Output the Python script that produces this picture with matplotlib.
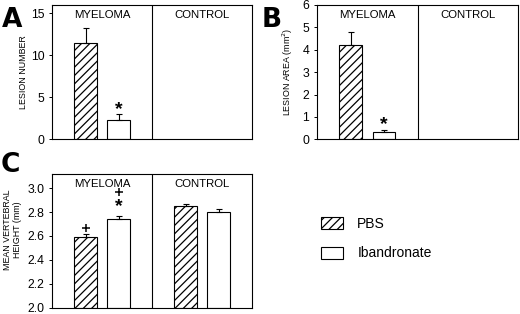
import matplotlib
matplotlib.use('Agg')
import matplotlib.pyplot as plt
from matplotlib.patches import Patch

plt.rcParams['font.family'] = ['Liberation Sans', 'DejaVu Sans']
plt.rcParams['hatch.linewidth'] = 0.9

# dados
grupos = ['MYELOMA', 'CONTROL']
tratamentos = ['PBS', 'Ibandronate']

# A - numero de lesoes (so myeloma)
lesao_num = [11.5, 2.3]
lesao_num_err = [1.8, 0.7]

# B - area das lesoes (mm2)
lesao_area = [4.2, 0.33]
lesao_area_err = [0.6, 0.08]

# C - altura vertebral media (mm): myeloma PBS, myeloma Iban, control PBS, control Iban
altura = [2.59, 2.74, 2.85, 2.80]
altura_err = [0.03, 0.025, 0.02, 0.025]

W, H = 520, 314
fig = plt.figure(figsize=(W / 100, H / 100), dpi=100)

def eixo(l, t, r, b):
    return fig.add_axes([l / W, 1 - b / H, (r - l) / W, (b - t) / H])

ax_a = eixo(52, 5, 252, 139.3)
ax_b = eixo(317, 5, 518, 139.3)
ax_c = eixo(52, 174, 252, 307.5)

pos = [0.67, 1.33, 2.67, 3.33]
larg = 0.45
estilos = [dict(facecolor='white', hatch='////'), dict(facecolor='white')]

def barras(ax, vals, errs):
    for i, (v, e) in enumerate(zip(vals, errs)):
        ax.bar(pos[i], v - ax.get_ylim()[0], bottom=ax.get_ylim()[0], width=larg,
               edgecolor='black', linewidth=0.8, **estilos[i % 2], zorder=2)
        ax.errorbar(pos[i], v, yerr=[[0], [e]], fmt='none', ecolor='black',
                    elinewidth=0.8, capsize=2.2, capthick=0.8, zorder=3)

def formatar(ax, ylim, ticks, fmt):
    ax.set_xlim(0, 4)
    ax.set_ylim(*ylim)
    ax.set_yticks(ticks)
    ax.set_yticklabels([fmt.format(t) for t in ticks])
    ax.set_xticks([])
    ax.tick_params(axis='y', length=2.5, width=0.7, pad=3, labelsize=8.8)
    for s in ax.spines.values():
        s.set_linewidth(0.8)
    ax.axvline(2, color='black', linewidth=0.8)
    for j, g in enumerate(grupos):
        ax.text(1 + 2 * j, 0.925, g, transform=ax.get_xaxis_transform(),
                ha='center', va='center', fontsize=8.2)

# simbolos: * como texto (linha de base deslocada), + como marcador
def simbolo(ax, x, y, s):
    if s == '*':
        tam = 14
        ax.annotate(s, (x, y), xytext=(0, -0.38 * tam), textcoords='offset points',
                    ha='center', va='baseline', fontsize=tam, fontweight='bold')
    else:
        ax.plot(x, y, marker='+', markersize=6, markeredgewidth=1.1, color='black')

formatar(ax_a, (0, 16), [0, 5, 10, 15], '{:g}')
barras(ax_a, lesao_num, lesao_num_err)
ax_a.set_ylabel('LESION NUMBER', fontsize=6.4)
ax_a.yaxis.set_label_coords(-0.12, 0.5)
simbolo(ax_a, pos[1], 3.87, '*')

formatar(ax_b, (0, 6), [0, 1, 2, 3, 4, 5, 6], '{:g}')
barras(ax_b, lesao_area, lesao_area_err)
ax_b.set_ylabel('LESION AREA (mm$^2$)', fontsize=6.4)
ax_b.yaxis.set_label_coords(-0.11, 0.5)
simbolo(ax_b, pos[1], 0.79, '*')

formatar(ax_c, (2.0, 3.12), [2.0, 2.2, 2.4, 2.6, 2.8, 3.0], '{:.1f}')
barras(ax_c, altura, altura_err)
ax_c.set_ylabel('MEAN VERTEBRAL\nHEIGHT (mm)', fontsize=6.4, linespacing=1.2)
ax_c.yaxis.set_label_coords(-0.15, 0.58)
simbolo(ax_c, pos[0], 2.669, '+')
simbolo(ax_c, pos[1], 2.869, '*')
simbolo(ax_c, pos[1], 2.969, '+')

# letras dos paineis
for letra, x, y in [('A', 2, 27), ('B', 262, 27), ('C', 1, 172)]:
    fig.text(x / W, 1 - y / H, letra, fontsize=19, fontweight='bold', family='DejaVu Sans',
             ha='left', va='baseline')

# legenda
handles = [Patch(facecolor='white', edgecolor='black', hatch='////', linewidth=0.8, label=tratamentos[0]),
           Patch(facecolor='white', edgecolor='black', linewidth=0.8, label=tratamentos[1])]
fig.legend(handles=handles, loc='upper left', bbox_to_anchor=(308 / W, 1 - 204 / H),
           frameon=False, fontsize=10, handlelength=1.65, handleheight=1.0,
           labelspacing=1.15, handletextpad=1.0)

fig.savefig('out.png', dpi=100)
